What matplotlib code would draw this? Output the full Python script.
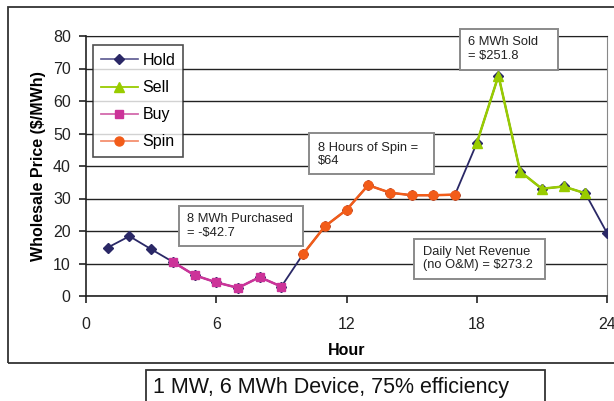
import matplotlib
matplotlib.use("Agg")
import matplotlib.pyplot as plt
from matplotlib.patches import Rectangle
from matplotlib.lines import Line2D

plt.rcParams['font.family'] = ['Liberation Sans', 'DejaVu Sans']

hours = list(range(1, 25))
prices = [14.9, 18.4, 14.4, 10.5, 6.4, 4.2, 2.5, 5.8, 2.9, 12.9, 21.4, 26.5,
          34.1, 31.8, 31.0, 31.0, 31.2, 47.0, 67.8, 38.3, 33.0, 33.7, 31.6, 19.4]
buy_hours = [4, 5, 6, 7, 8, 9]
spin_hours = [10, 11, 12, 13, 14, 15, 16, 17]
sell_hours = [18, 19, 20, 21, 22, 23]
series_labels = ["Hold", "Sell", "Buy", "Spin"]
xticks = [0, 6, 12, 18, 24]
yticks = [0, 10, 20, 30, 40, 50, 60, 70, 80]
notes = ["6 MWh Sold\n= $251.8", "8 Hours of Spin =\n$64",
         "8 MWh Purchased\n= -$42.7", "Daily Net Revenue\n(no O&M) = $273.2"]
caption = "1 MW, 6 MWh Device, 75% efficiency"

c_hold = '#2A2866'
c_sell = '#99CC00'
c_buy = '#CC3399'
c_spin = '#F25C19'

W, H = 614, 401
fig = plt.figure(figsize=(W / 100, H / 100), dpi=100)

def fx(px):
    return px / W

def fy(py):
    return 1 - py / H

# outer frame
fig.add_artist(Rectangle((fx(8), fy(363)), fx(620) - fx(8), fy(7) - fy(363),
                         transform=fig.transFigure, fill=False,
                         edgecolor='#333333', linewidth=1.3, clip_on=False))

ax = fig.add_axes([fx(86), fy(296), fx(607) - fx(86), fy(36) - fy(296)])

def sub(hs):
    return hs, [prices[h - 1] for h in hs]

ax.plot(hours, prices, color=c_hold, lw=1.3, marker='D', ms=5, zorder=3)
x, y = sub(sell_hours)
ax.plot(x, y, color=c_sell, lw=1.8, marker='^', ms=7.5, zorder=4)
x, y = sub(buy_hours)
ax.plot(x, y, color=c_buy, lw=1.8, marker='s', ms=6, zorder=4)
x, y = sub(spin_hours)
ax.plot(x, y, color=c_spin, lw=1.8, marker='o', ms=6.5, zorder=4)

ax.set_xlim(0, 24)
ax.set_ylim(0, 80)
ax.set_xticks(xticks)
ax.set_yticks(yticks)
ax.grid(axis='y', color='#222222', lw=1.0)
ax.set_axisbelow(True)
for s in ['left', 'bottom']:
    ax.spines[s].set_color('#222222')
    ax.spines[s].set_linewidth(1.2)
ax.spines['right'].set_color('#888888')
ax.spines['top'].set_color('#222222')
ax.tick_params(axis='both', direction='out', length=5, width=1.2,
               labelsize=11.5, colors='#222222')
ax.tick_params(axis='x', pad=10)
ax.tick_params(axis='y', pad=6)
ax.set_xlabel("Hour", fontsize=11.5, fontweight='bold', labelpad=8)
ax.set_ylabel("Wholesale Price ($/MWh)", fontsize=11.5, fontweight='bold', labelpad=5)

handles = [
    Line2D([], [], color='#5a5890', lw=1.2, marker='D', ms=5,
           markerfacecolor=c_hold, markeredgecolor=c_hold),
    Line2D([], [], color=c_sell, lw=1.3, marker='^', ms=7),
    Line2D([], [], color='#d36aad', lw=1.3, marker='s', ms=6,
           markerfacecolor=c_buy, markeredgecolor=c_buy),
    Line2D([], [], color='#f59070', lw=1.3, marker='o', ms=6.5,
           markerfacecolor=c_spin, markeredgecolor=c_spin),
]
leg = ax.legend(handles, series_labels, loc='upper left',
                bbox_to_anchor=((93 - 86) / 521, 1 - (45 - 36) / 260),
                fontsize=11.5, frameon=True, fancybox=False, edgecolor='#222222',
                handlelength=2.3, handletextpad=0.3, labelspacing=0.76,
                borderpad=0.5, borderaxespad=0)
leg.get_frame().set_linewidth(1.2)
leg.set_zorder(6)

# annotation boxes: (x0, y0, x1, y1) in pixels, text left, text center y
boxes = [
    (460, 29, 558, 70, 468, 49),
    (309, 133, 434, 174, 318, 154.5),
    (179, 206, 303, 246, 187, 226),
    (414, 239, 545, 279, 423, 258.5),
]
for (x0, y0, x1, y1, tx, ty), t in zip(boxes, notes):
    fig.add_artist(Rectangle((fx(x0), fy(y1)), fx(x1) - fx(x0), fy(y0) - fy(y1),
                             transform=fig.transFigure, facecolor='white',
                             edgecolor='#8a8a8a', linewidth=1.4, zorder=10))
    fig.text(fx(tx), fy(ty), t, fontsize=9.3, color='#222222', ha='left',
             va='center', linespacing=1.2, zorder=11)

# caption box
fig.add_artist(Rectangle((fx(146), fy(405)), fx(545) - fx(146), fy(370) - fy(405),
                         transform=fig.transFigure, facecolor='white',
                         edgecolor='#333333', linewidth=1.3, clip_on=False))
fig.text(fx(153), fy(387), caption, fontsize=15.5, color='#111111',
         ha='left', va='center')

fig.savefig("out.png", dpi=100)
